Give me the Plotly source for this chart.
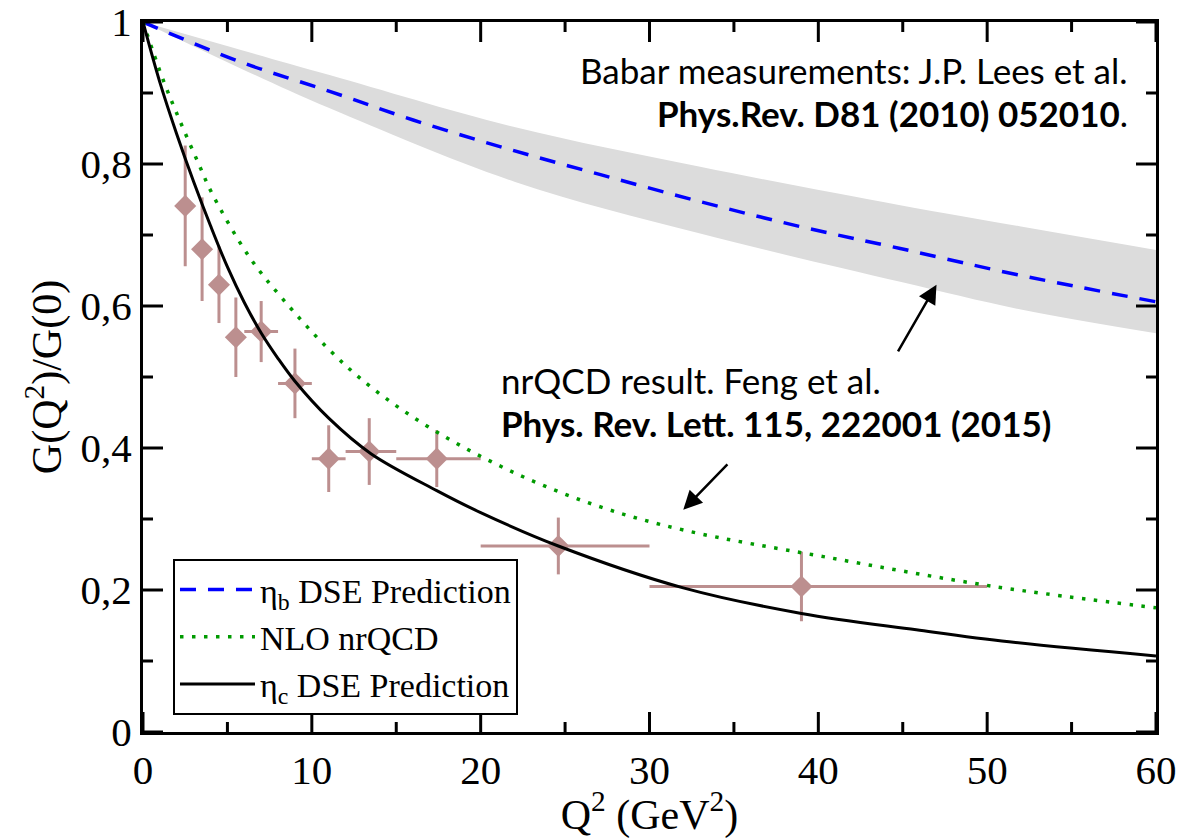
import plotly.graph_objects as go

# BaBar eta_c -> gamma gamma* transition form factor, normalised, with Q^2 bins
babar_q2 = [2.5, 3.5, 4.5, 5.5, 7.0, 9.0, 11.0, 13.4, 17.4, 24.6, 39.0]
babar_bin_lo = [2.0, 3.0, 4.0, 5.0, 6.0, 8.0, 10.0, 12.0, 15.0, 20.0, 30.0]
babar_bin_hi = [3.0, 4.0, 5.0, 6.0, 8.0, 10.0, 12.0, 15.0, 20.0, 30.0, 50.0]
babar_g = [0.741, 0.680, 0.630, 0.556, 0.564, 0.491, 0.385, 0.395, 0.385, 0.262, 0.205]
babar_err = [0.085, 0.073, 0.054, 0.056, 0.043, 0.049, 0.047, 0.047, 0.040, 0.040, 0.049]

# eta_c DSE prediction
etac_q2 = [0, 1, 2, 3, 4, 5, 6, 7, 8, 9, 11, 13.5, 17.4, 20, 24.6, 32, 39, 45.8, 51.3, 60]
etac_g = [1.0, 0.915, 0.842, 0.775, 0.713, 0.655, 0.605, 0.562, 0.526, 0.494, 0.442,
          0.392, 0.340, 0.309, 0.262, 0.203, 0.167, 0.144, 0.127, 0.107]

# NLO nrQCD
nrqcd_q2 = [0, 1.2, 2.2, 3.3, 4.1, 6.3, 8.2, 11.0, 13.6, 17.3, 22.1, 27.1, 32.1,
            40.3, 50.4, 60.0]
nrqcd_g = [1.0, 0.918, 0.860, 0.800, 0.758, 0.669, 0.612, 0.539, 0.484, 0.424, 0.364,
           0.317, 0.284, 0.247, 0.205, 0.175]

# eta_b DSE prediction with its uncertainty band
etab_q2 = [0, 5.75, 11.1, 16.0, 21.5, 27.1, 33.0, 38.9, 44.85, 51.8, 60.0]
etab_g = [1.0, 0.944, 0.902, 0.862, 0.822, 0.785, 0.747, 0.712, 0.681, 0.644, 0.606]
band_q2 = [0, 5.75, 11.1, 22.0, 33.0, 44.85, 52.0, 60.0]
band_hi = [1.0, 0.961, 0.925, 0.852, 0.796, 0.742, 0.712, 0.679]
band_lo = [1.0, 0.935, 0.878, 0.775, 0.702, 0.634, 0.595, 0.5615]

# axis ticks
x_major = [0, 10, 20, 30, 40, 50, 60]
x_minor = [5, 15, 25, 35, 45, 55]
y_major = [0, 0.2, 0.4, 0.6, 0.8, 1.0]
y_major_text = ["0", "0,2", "0,4", "0,6", "0,8", "1"]
y_minor = [0.1, 0.3, 0.5, 0.7, 0.9]

SERIF = "Liberation Serif"
SANS = "Lato"
BROWN = "#bc8f8f"
MAJOR_LEN, MINOR_LEN = 20, 10

fig = go.Figure()

# uncertainty band of the eta_b prediction
fig.add_trace(go.Scatter(x=band_q2, y=band_lo, mode="lines", line=dict(width=0, shape="spline"),
                         showlegend=False, hoverinfo="skip"))
fig.add_trace(go.Scatter(x=band_q2, y=band_hi, mode="lines", line=dict(width=0, shape="spline"),
                         fill="tonexty", fillcolor="#dcdcdc", showlegend=False, hoverinfo="skip"))

# measurements
fig.add_trace(go.Scatter(
    x=babar_q2, y=babar_g, mode="markers",
    marker=dict(symbol="diamond", size=17, color=BROWN, line=dict(width=0)),
    error_y=dict(type="data", array=babar_err, color=BROWN, thickness=3, width=0),
    error_x=dict(type="data",
                 array=[h - q for h, q in zip(babar_bin_hi, babar_q2)],
                 arrayminus=[q - l for l, q in zip(babar_bin_lo, babar_q2)],
                 color=BROWN, thickness=3, width=0),
    showlegend=False))

fig.add_trace(go.Scatter(x=etab_q2, y=etab_g, mode="lines",
                         line=dict(color="#0000ff", width=3.5, dash="16px,12px", shape="spline"),
                         name="η<sub>b</sub> DSE Prediction"))
fig.add_trace(go.Scatter(x=nrqcd_q2, y=nrqcd_g, mode="lines",
                         line=dict(color="#009a00", width=3.5, dash="3.5px,8.5px", shape="spline"),
                         name="NLO nrQCD"))
fig.add_trace(go.Scatter(x=etac_q2, y=etac_g, mode="lines",
                         line=dict(color="black", width=3, shape="spline"),
                         name="η<sub>c</sub> DSE Prediction"))

frame = dict(showline=True, linecolor="black", linewidth=3, mirror=True,
             ticks="", showgrid=False, zeroline=False,
             ticklabeloverflow="allow", automargin=False)

fig.update_xaxes(range=[0, 60], tickmode="array", tickvals=x_major,
                 tickfont=dict(family=SERIF, size=41, color="black"),
                 title=dict(text="Q<sup>2</sup> (GeV<sup>2</sup>)",
                            font=dict(family=SERIF, size=42, color="black"), standoff=4),
                 **frame)
fig.update_yaxes(range=[0, 1], tickmode="array", tickvals=y_major, ticktext=y_major_text,
                 tickfont=dict(family=SERIF, size=41, color="black"),
                 title=dict(text="G(Q<sup>2</sup>)/G(0)",
                            font=dict(family=SERIF, size=42, color="black"), standoff=6),
                 **frame)

# inward tick marks on all four sides, sized in pixels
tick_line = dict(color="black", width=3)
for vals, length in ((x_major, MAJOR_LEN), (x_minor, MINOR_LEN)):
    for v in vals:
        for anchor, sign in ((0, 1), (1, -1)):
            fig.add_shape(type="line", xref="x", yref="paper", ysizemode="pixel",
                          yanchor=anchor, x0=v, x1=v, y0=0, y1=sign * length,
                          line=tick_line, layer="above")
for vals, length in ((y_major, MAJOR_LEN), (y_minor, MINOR_LEN)):
    for v in vals:
        for anchor, sign in ((0, 1), (1, -1)):
            fig.add_shape(type="line", xref="paper", yref="y", xsizemode="pixel",
                          xanchor=anchor, y0=v, y1=v, x0=0, x1=sign * length,
                          line=tick_line, layer="above")

ann_font = dict(family=SANS, size=35, color="black")
annotations = [
    dict(x=58.45, y=0.932, xref="x", yref="y", xanchor="right", yanchor="middle",
         text="Babar measurements: J.P. Lees et al.", showarrow=False, font=ann_font),
    dict(x=58.45, y=0.872, xref="x", yref="y", xanchor="right", yanchor="middle",
         text="<b>Phys.Rev. D81 (2010) 052010</b>.", showarrow=False, font=ann_font),
    dict(x=21.1, y=0.496, xref="x", yref="y", xanchor="left", yanchor="middle",
         text="nrQCD result. Feng et al.", showarrow=False, font=ann_font),
    dict(x=21.1, y=0.435, xref="x", yref="y", xanchor="left", yanchor="middle",
         text="<b>Phys. Rev. Lett. 115, 222001 (2015)</b>", showarrow=False, font=ann_font),
    dict(x=47.0, y=0.630, ax=44.67, ay=0.534, xref="x", yref="y", axref="x", ayref="y",
         text="", showarrow=True, arrowhead=2, arrowsize=1.5, arrowwidth=2.5, arrowcolor="black"),
    dict(x=32.0, y=0.313, ax=34.7, ay=0.379, xref="x", yref="y", axref="x", ayref="y",
         text="", showarrow=True, arrowhead=2, arrowsize=1.5, arrowwidth=2.5, arrowcolor="black"),
]

fig.update_layout(
    width=1181, height=839,
    margin=dict(l=143, r=25, t=22, b=107, autoexpand=False),
    plot_bgcolor="white", paper_bgcolor="white",
    annotations=annotations,
    legend=dict(x=0.0296, y=0.2437, xanchor="left", yanchor="top",
                bgcolor="white", bordercolor="black", borderwidth=2,
                font=dict(family=SERIF, size=34, color="black"),
                traceorder="normal", itemwidth=75, tracegroupgap=0),
)

fig.write_html("out.html")
